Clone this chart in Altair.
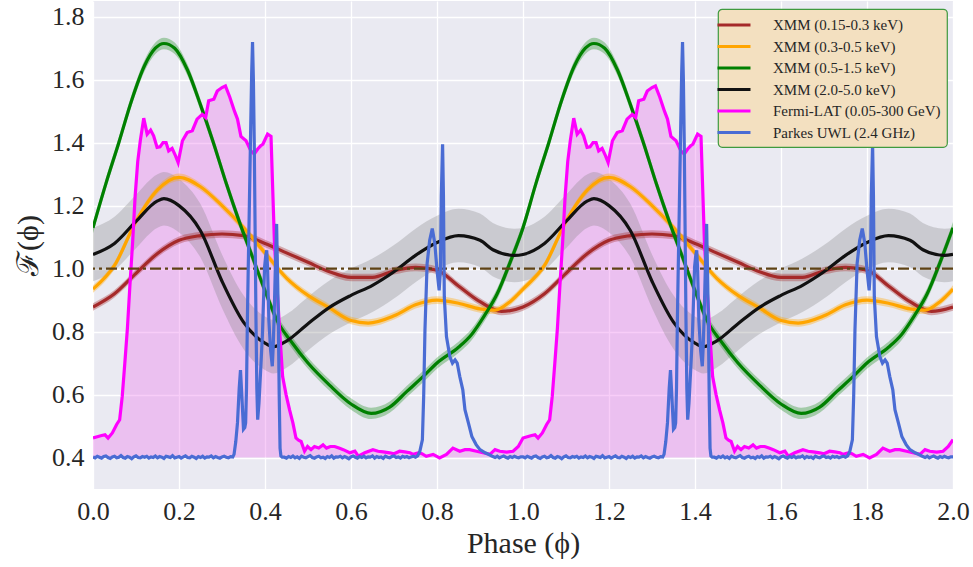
import altair as alt
import numpy as np
import pandas as pd

# ---------------- data (one rotation, phase 0..1; plotted twice) ----------------
labels = ["\u00a0XMM (0.15-0.3 keV)", "\u00a0XMM (0.3-0.5 keV)", "\u00a0XMM (0.5-1.5 keV)",
          "\u00a0XMM (2.0-5.0 keV)", "Fermi-LAT (0.05-300 GeV)", "Parkes UWL (2.4 GHz)"]
colors = ["#a52a2a", "#ffa500", "#008000", "#111111", "#ff00ff", "#4a6cd4"]
widths = [3.2, 3.2, 3.2, 3.2, 1.8, 1.6]

red_phase = [0.00, 0.05, 0.10, 0.15, 0.20, 0.25, 0.30, 0.35, 0.40, 0.45, 0.50,
             0.55, 0.60, 0.65, 0.70, 0.75, 0.80, 0.85, 0.90, 0.95, 1.00]
red_flux = [0.878, 0.92, 0.985, 1.048, 1.09, 1.105, 1.11, 1.105, 1.08, 1.05, 1.02,
            0.99, 0.972, 0.972, 0.993, 1.004, 0.995, 0.945, 0.895, 0.864, 0.878]

orange_phase = [0.00, 0.05, 0.10, 0.15, 0.20, 0.25, 0.30, 0.35, 0.40, 0.45, 0.50,
                0.55, 0.60, 0.64, 0.70, 0.75, 0.80, 0.85, 0.90, 0.935, 0.97, 1.00]
orange_flux = [0.935, 1.01, 1.15, 1.25, 1.29, 1.26, 1.20, 1.13, 1.05, 0.97, 0.915,
               0.875, 0.835, 0.827, 0.85, 0.885, 0.90, 0.89, 0.872, 0.868, 0.895, 0.935]

green_phase = [0.00, 0.03, 0.06, 0.09, 0.12, 0.145, 0.165, 0.19, 0.22, 0.25, 0.28,
               0.31, 0.34, 0.37, 0.40, 0.43, 0.46, 0.50, 0.55, 0.60, 0.647, 0.69,
               0.73, 0.77, 0.80, 0.85, 0.88, 0.91, 0.94, 0.97, 1.00]
green_flux = [1.13, 1.27, 1.40, 1.535, 1.645, 1.70, 1.715, 1.70, 1.63, 1.52, 1.40,
              1.27, 1.15, 1.04, 0.93, 0.83, 0.77, 0.70, 0.63, 0.57, 0.54, 0.56,
              0.61, 0.66, 0.70, 0.75, 0.79, 0.85, 0.92, 1.02, 1.13]

black_phase = [0.00, 0.05, 0.10, 0.15, 0.165, 0.20, 0.25, 0.30, 0.35, 0.40, 0.42,
               0.45, 0.50, 0.55, 0.60, 0.65, 0.70, 0.75, 0.80, 0.85, 0.90, 0.93,
               0.98, 1.00]
black_flux = [1.045, 1.08, 1.15, 1.215, 1.222, 1.20, 1.12, 0.96, 0.83, 0.763, 0.752,
              0.77, 0.825, 0.877, 0.915, 0.947, 0.99, 1.042, 1.083, 1.105, 1.09, 1.06,
              1.042, 1.045]

band_half = [0.012, 0.012, 0.018, 0.085]

fermi_phase = [
    0.000, 0.010, 0.020, 0.028, 0.035, 0.045, 0.055, 0.062, 0.068, 0.074,
    0.080, 0.086, 0.092, 0.098, 0.104, 0.110, 0.118, 0.126, 0.134, 0.141,
    0.149, 0.156, 0.163, 0.170, 0.176, 0.184, 0.192, 0.198, 0.208, 0.219,
    0.231, 0.242, 0.254, 0.262, 0.269, 0.281, 0.289, 0.300, 0.308, 0.318,
    0.329, 0.336, 0.344, 0.356, 0.367, 0.375, 0.383, 0.390, 0.395, 0.406,
    0.414, 0.418, 0.422, 0.428, 0.434, 0.441, 0.449, 0.457, 0.465, 0.472,
    0.478, 0.484, 0.492, 0.499, 0.507, 0.515, 0.525, 0.535, 0.543, 0.552,
    0.562, 0.572, 0.582, 0.597, 0.609, 0.617, 0.632, 0.651, 0.663, 0.675,
    0.690, 0.700, 0.713, 0.725, 0.737, 0.745, 0.756, 0.765, 0.775, 0.791,
    0.806, 0.822, 0.837, 0.853, 0.865, 0.876, 0.892, 0.907, 0.923, 0.935,
    0.946, 0.962, 0.977, 0.989, 1.000]
fermi_flux = [
    0.462, 0.466, 0.470, 0.472, 0.462, 0.478, 0.505, 0.520, 0.594, 0.700,
    0.810, 0.950, 1.080, 1.230, 1.340, 1.406, 1.478, 1.427, 1.440, 1.422,
    1.385, 1.387, 1.400, 1.400, 1.374, 1.382, 1.358, 1.337, 1.406, 1.432,
    1.438, 1.475, 1.490, 1.480, 1.533, 1.538, 1.564, 1.575, 1.580, 1.545,
    1.500, 1.475, 1.420, 1.406, 1.374, 1.364, 1.380, 1.390, 1.395, 1.427,
    1.420, 1.250, 1.080, 0.940, 0.805, 0.657, 0.600, 0.552, 0.509, 0.462,
    0.455, 0.451, 0.420, 0.435, 0.425, 0.435, 0.430, 0.440, 0.430, 0.435,
    0.435, 0.430, 0.425, 0.415, 0.420, 0.404, 0.415, 0.425, 0.420, 0.418,
    0.415, 0.412, 0.420, 0.418, 0.415, 0.410, 0.415, 0.412, 0.404, 0.410,
    0.399, 0.410, 0.430, 0.420, 0.425, 0.425, 0.420, 0.415, 0.410, 0.425,
    0.420, 0.417, 0.420, 0.435, 0.457]
fermi_base = 0.4

# Parkes: off-pulse baseline segments (phase step 0.005) and pulse segments
parkes_off1_start, parkes_off1 = 0.000, [
    0.402, 0.399, 0.404, 0.401, 0.398, 0.403, 0.405, 0.400, 0.397, 0.402,
    0.404, 0.399, 0.401, 0.406, 0.400, 0.398, 0.403, 0.401, 0.396, 0.402,
    0.405, 0.400, 0.399, 0.403, 0.401, 0.404, 0.398, 0.402, 0.400, 0.405,
    0.399, 0.403, 0.401, 0.397, 0.404, 0.402, 0.400, 0.406, 0.399, 0.401,
    0.403, 0.398, 0.402, 0.405, 0.400, 0.399, 0.404, 0.401, 0.397, 0.403,
    0.400, 0.404, 0.398, 0.402, 0.401, 0.405, 0.399, 0.403, 0.400, 0.398,
    0.402, 0.404, 0.401, 0.399, 0.403, 0.402]
parkes_off2_start, parkes_off2 = 0.445, [
    0.401, 0.398, 0.403, 0.400, 0.405, 0.399, 0.402, 0.397, 0.404, 0.401,
    0.399, 0.403, 0.406, 0.400, 0.398, 0.402, 0.404, 0.399, 0.401, 0.397,
    0.403, 0.400, 0.405, 0.398, 0.402, 0.401, 0.404, 0.399, 0.403, 0.400,
    0.396, 0.402, 0.405, 0.401, 0.398, 0.403, 0.400, 0.404, 0.399, 0.402,
    0.401, 0.405, 0.398, 0.403, 0.400, 0.402, 0.397, 0.404, 0.401, 0.399,
    0.403, 0.405, 0.400, 0.402, 0.398, 0.404, 0.401, 0.403, 0.399, 0.402,
    0.404, 0.401, 0.405]
parkes_off3_start, parkes_off3 = 0.930, [
    0.403, 0.400, 0.404, 0.399, 0.402, 0.405, 0.401, 0.398, 0.403, 0.400,
    0.404, 0.401, 0.399, 0.402]
main_phase = [0.328, 0.332, 0.336, 0.340, 0.343, 0.346, 0.350, 0.353, 0.355, 0.357,
              0.359, 0.361, 0.363, 0.365, 0.367, 0.369, 0.371, 0.373, 0.375, 0.377,
              0.379, 0.381, 0.383, 0.386, 0.390, 0.394, 0.399, 0.402, 0.404, 0.406,
              0.409, 0.413, 0.417, 0.419, 0.421, 0.424, 0.427, 0.429, 0.431, 0.433,
              0.435, 0.437, 0.440]
main_flux = [0.410, 0.450, 0.510, 0.620, 0.678, 0.600, 0.490, 0.495, 0.510, 0.620,
             0.836, 1.000, 1.153, 1.310, 1.469, 1.620, 1.720, 1.600, 1.400, 1.120,
             0.840, 0.620, 0.520, 0.573, 0.680, 0.790, 1.005, 1.045, 1.058, 1.000,
             0.836, 0.740, 0.690, 0.750, 0.836, 1.000, 1.142, 1.000, 0.836, 0.600,
             0.430, 0.405, 0.401]
inter_phase = [0.760, 0.766, 0.769, 0.772, 0.777, 0.783, 0.789, 0.795, 0.800, 0.805,
               0.808, 0.810, 0.813, 0.815, 0.817, 0.822, 0.830, 0.836, 0.842, 0.847,
               0.853, 0.860, 0.865, 0.873, 0.881, 0.891, 0.900, 0.912, 0.923]
inter_flux = [0.419, 0.456, 0.594, 0.805, 1.016, 1.090, 1.127, 1.079, 0.995, 0.931,
              0.995, 1.230, 1.395, 1.230, 0.910, 0.784, 0.720, 0.700, 0.710, 0.700,
              0.657, 0.615, 0.552, 0.510, 0.467, 0.441, 0.425, 0.415, 0.408]

x_ticks = [0.0, 0.2, 0.4, 0.6, 0.8, 1.0, 1.2, 1.4, 1.6, 1.8, 2.0]
y_ticks = [0.4, 0.6, 0.8, 1.0, 1.2, 1.4, 1.6, 1.8]
ref_level = [1.0]


# ---------------- tables ----------------
def closed_two(ph, v):
    ph = np.asarray(ph, float); v = np.asarray(v, float)
    return np.concatenate([ph[:-1], ph + 1]), np.concatenate([v[:-1], v])


frames = []
xmm = [(red_phase, red_flux), (orange_phase, orange_flux),
       (green_phase, green_flux), (black_phase, black_flux)]
for i, (ph, v) in enumerate(xmm):
    p2, v2 = closed_two(ph, v)
    frames.append(pd.DataFrame({"phase": p2, "flux": v2, "series": labels[i],
                                "lo": v2 - band_half[i], "hi": v2 + band_half[i]}))
xmm_df = pd.concat(frames, ignore_index=True)

fp, fv = closed_two(fermi_phase, fermi_flux)
fermi_df = pd.DataFrame({"phase": fp, "flux": fv, "series": labels[4], "base": fermi_base})

pk_ph, pk_v = [], []
for start, vals in [(parkes_off1_start, parkes_off1), (parkes_off2_start, parkes_off2),
                    (parkes_off3_start, parkes_off3)]:
    pk_ph += [round(start + 0.005 * k, 4) for k in range(len(vals))]
    pk_v += vals
pk_ph += main_phase + inter_phase
pk_v += main_flux + inter_flux
order = np.argsort(pk_ph)
pk_ph = np.asarray(pk_ph)[order]; pk_v = np.asarray(pk_v)[order]
pk_ph = np.concatenate([pk_ph, pk_ph + 1, [2.0]])
pk_v = np.concatenate([pk_v, pk_v, [pk_v[0]]])
parkes_df = pd.DataFrame({"phase": pk_ph, "flux": pk_v, "series": labels[5]})

ref_df = pd.DataFrame({"flux": ref_level})

# ---------------- encodings ----------------
FONT = "Liberation Serif"
xs = alt.Scale(domain=[0, 2], nice=False, zero=False)
ys = alt.Scale(domain=[0.3, 1.85], nice=False, zero=False)
x_axis = alt.Axis(values=x_ticks, format=".1f", title="Phase (\u03d5)", titlePadding=4,
                  labelFlush=False)
y_axis = alt.Axis(values=y_ticks, format=".1f", title="\u2131(\u03d5)", titlePadding=8,
                  labelFlush=False)

X = alt.X("phase:Q", scale=xs, axis=x_axis)

legend = alt.Legend(title=None, orient="none", legendX=625, legendY=8,
                    fillColor="#f3e0c0", strokeColor="#3f9a3f",
                    cornerRadius=4, padding=6, symbolType="M-2,0L2,0", symbolSize=272,
                    labelFont=FONT, labelFontSize=15, labelColor="#262626",
                    labelOffset=29, rowPadding=3.5, labelLimit=400)
C = alt.Color("series:N", scale=alt.Scale(domain=labels, range=colors), legend=legend)
W = alt.StrokeWidth("series:N", scale=alt.Scale(domain=labels, range=widths), legend=legend)

layers = []
# Fermi filled area
layers.append(alt.Chart(fermi_df).mark_area(color="violet", opacity=0.4, clip=True).encode(
    x=X, y=alt.Y("flux:Q", scale=ys, axis=y_axis), y2="base:Q"))
# bands
band_cols = ["#a52a2a", "#ffa500", "#008000", "#808080"]
band_op = [0.35, 0.35, 0.3, 0.3]
for i in [3, 0, 1, 2]:
    layers.append(alt.Chart(xmm_df).transform_filter(
        alt.datum.series == labels[i]).mark_area(
        color=band_cols[i], opacity=band_op[i], interpolate="monotone", clip=True).encode(
        x=X, y=alt.Y("lo:Q", scale=ys, axis=y_axis), y2="hi:Q"))
# XMM lines
for i in range(4):
    layers.append(alt.Chart(xmm_df).transform_filter(
        alt.datum.series == labels[i]).mark_line(interpolate="monotone", clip=True).encode(
        x=X, y=alt.Y("flux:Q", scale=ys, axis=y_axis), color=C, strokeWidth=W))
# Fermi line
layers.append(alt.Chart(fermi_df).mark_line(clip=True).encode(
    x=X, y=alt.Y("flux:Q", scale=ys, axis=y_axis), color=C, strokeWidth=W))
# reference dash-dot line
layers.append(alt.Chart(ref_df).mark_rule(color="#5e4214", strokeWidth=2.4,
                                          strokeDash=[11, 4, 3, 4]).encode(
    y=alt.Y("flux:Q", scale=ys, axis=y_axis)))
# Parkes line
layers.append(alt.Chart(parkes_df).mark_line(clip=True).encode(
    x=X, y=alt.Y("flux:Q", scale=ys, axis=y_axis), color=C, strokeWidth=W))

chart = alt.layer(*layers).properties(
    width=860, height=488,
    padding={"left": 93, "top": 1, "right": 20, "bottom": 78},
    autosize=alt.AutoSizeParams(type="none"),
).configure_view(fill="#eaeaf2", strokeWidth=0).configure_axis(
    grid=True, gridColor="white", gridWidth=1.3, domain=False, ticks=False,
    labelFont=FONT, labelFontSize=26, labelColor="#262626", labelPadding=9,
    titleFont=FONT, titleFontSize=30, titleColor="#262626", titleFontWeight="normal",
).configure_legend(strokeWidth=1.2)

chart.save("out.html", embed_options={"renderer": "svg", "actions": False})
